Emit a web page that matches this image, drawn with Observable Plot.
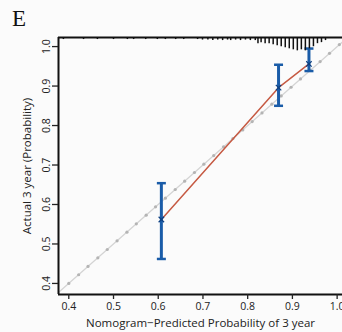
<!DOCTYPE html>
<html>
<head>
<meta charset="utf-8">
<script src="https://cdn.jsdelivr.net/npm/d3@7"></script>
<script src="https://cdn.jsdelivr.net/npm/@observablehq/plot@0.6"></script>
<style>
  html, body { margin: 0; padding: 0; background: #fbfbfb; }
  #wrap { position: relative; width: 342px; height: 332px; overflow: hidden; }
  #panel { position: absolute; left: 12px; top: 7px; font-family: "Liberation Serif", serif; font-size: 23px; color: #111; line-height: 1; }
</style>
</head>
<body>
<div id="wrap"><div id="panel">E</div></div>
<script>
// ---- data ----
const xTicks = [0.4, 0.5, 0.6, 0.7, 0.8, 0.9, 1.0];
const yTicks = [0.4, 0.5, 0.6, 0.7, 0.8, 0.9, 1.0];
const xLabel = "Nomogram\u2212Predicted Probability of 3 year";
const yLabel = "Actual 3 year (Probability)";

// grouped calibration points
const predicted = [0.607, 0.869, 0.937];
const observed  = [0.562, 0.896, 0.956];
const lowerCI   = [0.462, 0.850, 0.938];
const upperCI   = [0.654, 0.954, 0.995];

// ideal reference line and its markers
const idealLine = [0.37, 1.02];
const idealDots = [0.400, 0.422, 0.443, 0.465, 0.486, 0.508, 0.530, 0.551, 0.573, 0.594,
                   0.616, 0.638, 0.659, 0.681, 0.702, 0.724, 0.746, 0.767, 0.789, 0.810,
                   0.832, 0.854, 0.875, 0.897, 0.918, 0.940, 0.962, 0.983, 1.005];

// spike histogram of predicted probabilities (top rug)
const rugX = [0.388, 0.433, 0.464, 0.500, 0.531, 0.545, 0.572, 0.598, 0.616, 0.639,
              0.657, 0.688, 0.699, 0.711, 0.722, 0.733, 0.744, 0.755, 0.762, 0.773,
              0.784, 0.795, 0.806, 0.817, 0.823, 0.830, 0.839, 0.848, 0.857, 0.866,
              0.875, 0.884, 0.893, 0.902, 0.911, 0.920, 0.929, 0.938, 0.947, 0.956,
              0.965, 0.974];
const rugCount = [2, 2, 2, 2, 2, 2, 2, 2, 2, 2,
                  2, 2, 2.5, 2.5, 3, 2.5, 3, 2.5, 3, 2.5,
                  3, 2.5, 3, 3, 6, 5, 6, 6, 7, 8,
                  9, 10, 11, 12, 13, 12, 13, 11, 9, 6,
                  5, 3];

// ---- build ----
const xDomain = [0.377, 1.012];
const yDomain = [0.372, 1.023];
const yTop = yDomain[1];
const spikeUnit = 0.0026;

const groups = predicted.map((x, i) => ({x, obs: observed[i], lo: lowerCI[i], hi: upperCI[i]}));
const rug = rugX.map((x, i) => ({x, n: rugCount[i]}));

const BLUE = "#1a5ca8";
const capSymbol = { draw(ctx, size) { const w = Math.sqrt(size / Math.PI); ctx.moveTo(-w, 0); ctx.lineTo(w, 0); } };
const fmt = d3.format(".1f");
const FONT = "Open Sans, sans-serif";

const chart = Plot.plot({
  width: 342,
  height: 332,
  marginLeft: 58,
  marginTop: 37,
  marginBottom: 38,
  marginRight: 0,
  style: { background: "transparent", fontFamily: FONT, color: "#222" },
  x: { domain: xDomain },
  y: { domain: yDomain },
  marks: [
    // ideal diagonal
    Plot.line(idealLine, { x: d => d, y: d => d, stroke: "#d4d4d4", strokeWidth: 1.3, clip: true }),
    Plot.dot(idealDots, { x: d => d, y: d => d, r: 1.6, fill: "#b4b4b4", stroke: "none", clip: true }),
    // calibration curve
    Plot.line(groups, { x: "x", y: "obs", stroke: "#c65a43", strokeWidth: 1.5 }),
    // error bars
    Plot.ruleX(groups, { x: "x", y1: "lo", y2: "hi", stroke: BLUE, strokeWidth: 3 }),
    Plot.dot(groups, { x: "x", y: "lo", symbol: capSymbol, r: 4.5, stroke: BLUE, strokeWidth: 2.5, fill: "none" }),
    Plot.dot(groups, { x: "x", y: "hi", symbol: capSymbol, r: 4.5, stroke: BLUE, strokeWidth: 2.5, fill: "none" }),
    Plot.dot(groups, { x: "x", y: "obs", symbol: "times", r: 2.6, stroke: "#0d3f80", strokeWidth: 1.2 }),
    // top spike histogram
    Plot.ruleX(rug, { x: "x", y1: yTop, y2: d => yTop - d.n * spikeUnit, stroke: "#111", strokeWidth: 1.5 }),
    // frame lines
    Plot.ruleY([yTop], { stroke: "#111", strokeWidth: 2 }),
    Plot.ruleY([yDomain[0]], { stroke: "#111", strokeWidth: 2 }),
    Plot.ruleX([xDomain[0]], { stroke: "#111", strokeWidth: 2 }),
    // axes
    Plot.axisX({ ticks: xTicks, tickFormat: fmt, tickSize: 5, tickPadding: 3, fontSize: 10.5, strokeWidth: 1.3, label: null }),
    Plot.axisY({ ticks: yTicks, tickFormat: fmt, tickSize: 6, tickPadding: 3, tickRotate: -90, fontSize: 10.5, strokeWidth: 1.3, label: null }),
    Plot.text([xLabel], { frameAnchor: "bottom", dy: 32, fontSize: 11.5, fill: "#222" }),
    Plot.text([yLabel], { frameAnchor: "left", dx: -31, rotate: -90, textAnchor: "middle", fontSize: 11.5, fill: "#222" })
  ]
});
document.getElementById("wrap").prepend(chart);
</script>
</body>
</html>
